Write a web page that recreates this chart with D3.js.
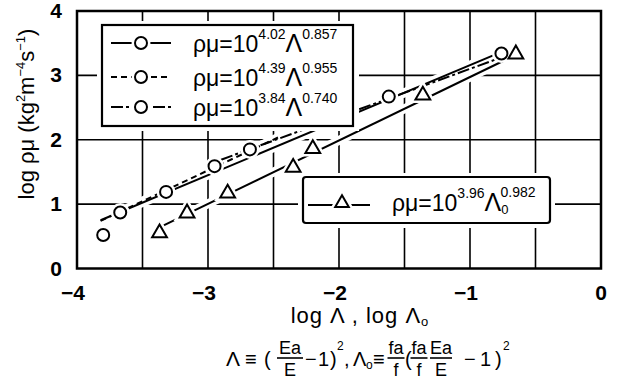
<!DOCTYPE html>
<html><head><meta charset="utf-8">
<script src="https://cdn.jsdelivr.net/npm/d3@7"></script>
<style>body{margin:0;background:#fff}text{font-family:"Liberation Sans",Arial,sans-serif;fill:#000}</style>
</head><body><svg id="c" width="620" height="380"></svg>
<script>
// ---- data ----
const circleX = [-3.80, -3.67, -3.32, -2.95, -2.68, -1.62, -0.76];
const circleY = [0.52, 0.87, 1.19, 1.59, 1.85, 2.67, 3.34];
const triX = [-3.37, -3.16, -2.85, -2.35, -2.20, -1.36, -0.65];
const triY = [0.55, 0.86, 1.17, 1.57, 1.86, 2.69, 3.33];
// fitted lines (end points, as drawn in the picture)
const fitNames = ["solid", "dashed", "dashdot", "tri"];
const fitX1 = [-3.82, -3.82, -2.90, -3.37];
const fitY1 = [0.75, 0.74, 1.69, 0.64];
const fitX2 = [-0.80, -2.45, -0.80, -0.70];
const fitY2 = [3.33, 2.05, 3.25, 3.27];
const xTicks = [-4, -3, -2, -1, 0];
const yTicks = [0, 1, 2, 3, 4];
const xGrid = [-3.5, -3, -2.5, -2, -1.5, -1, -0.5];
const yGrid = [1, 2, 3];
const legendExp = ["4.02", "4.39", "3.84"];
const legendPow = ["0.857", "0.955", "0.740"];
const legend2Exp = "3.96", legend2Pow = "0.982";

const dashes = {solid: null, dashed: "6,4", dashdot: "12,3,3,3", tri: null};

const svg = d3.select("#c");
const x = d3.scaleLinear().domain([-4, 0]).range([77, 601]);
const y = d3.scaleLinear().domain([0, 4]).range([268.5, 11]);

// grid
const g = svg.append("g");
g.selectAll(".vg").data(xGrid).join("line")
  .attr("x1", d => x(d)).attr("x2", d => x(d)).attr("y1", y(0)).attr("y2", y(4))
  .attr("stroke", "#000").attr("stroke-width", 1.6);
g.selectAll(".hg").data(yGrid).join("line")
  .attr("y1", d => y(d)).attr("y2", d => y(d)).attr("x1", x(-4)).attr("x2", x(0))
  .attr("stroke", "#000").attr("stroke-width", 1.6);

// fit lines with white halos
const fits = fitNames.map((n, i) => ({n, x1: fitX1[i], y1: fitY1[i], x2: fitX2[i], y2: fitY2[i]}));
svg.append("g").selectAll("line").data(fits).join("line")
  .attr("x1", d => x(d.x1)).attr("y1", d => y(d.y1)).attr("x2", d => x(d.x2)).attr("y2", d => y(d.y2))
  .attr("stroke", "#fff").attr("stroke-width", 9);
svg.append("g").selectAll("line").data(fits).join("line")
  .attr("x1", d => x(d.x1)).attr("y1", d => y(d.y1)).attr("x2", d => x(d.x2)).attr("y2", d => y(d.y2))
  .attr("stroke", "#000").attr("stroke-width", 2)
  .attr("stroke-dasharray", d => dashes[d.n]);

// markers
const triPath = d3.symbol().type(d3.symbolTriangle).size(95);
const circ = circleX.map((v, i) => [v, circleY[i]]);
const tris = triX.map((v, i) => [v, triY[i]]);
svg.append("g").selectAll("circle").data(circ).join("circle")
  .attr("cx", d => x(d[0])).attr("cy", d => y(d[1])).attr("r", 6)
  .attr("fill", "#fff").attr("stroke", "#fff").attr("stroke-width", 7);
svg.append("g").selectAll("path").data(tris).join("path")
  .attr("d", triPath).attr("transform", d => `translate(${x(d[0])},${y(d[1])})`)
  .attr("fill", "#fff").attr("stroke", "#fff").attr("stroke-width", 7);
svg.append("g").selectAll("circle").data(circ).join("circle")
  .attr("cx", d => x(d[0])).attr("cy", d => y(d[1])).attr("r", 6)
  .attr("fill", "#fff").attr("stroke", "#000").attr("stroke-width", 2);
svg.append("g").selectAll("path").data(tris).join("path")
  .attr("d", triPath).attr("transform", d => `translate(${x(d[0])},${y(d[1])})`)
  .attr("fill", "#fff").attr("stroke", "#000").attr("stroke-width", 2).attr("stroke-linejoin", "miter");

// frame
svg.append("rect").attr("x", x(-4)).attr("y", y(4)).attr("width", x(0) - x(-4)).attr("height", y(0) - y(4))
  .attr("fill", "none").attr("stroke", "#000").attr("stroke-width", 2.5);

// ticks
svg.append("g").selectAll("text").data(yTicks).join("text")
  .attr("x", 62).attr("y", d => y(d) + 7).attr("text-anchor", "end")
  .attr("font-size", 21).attr("font-weight", "bold").text(d => d);
svg.append("g").selectAll("text").data(xTicks).join("text")
  .attr("x", d => x(d) - (d < 0 ? 4 : 0)).attr("y", 300).attr("text-anchor", "middle")
  .attr("font-size", 21).attr("font-weight", "bold").text(d => d < 0 ? "\u2212" + (-d) : d);

// legend 1
const L1 = svg.append("g");
L1.append("rect").attr("x", 97).attr("y", 21).attr("width", 262).attr("height", 110).attr("fill", "#fff");
L1.append("rect").attr("x", 102).attr("y", 25).attr("width", 251).attr("height", 101)
  .attr("fill", "#fff").attr("stroke", "#000").attr("stroke-width", 2.2);
const rowY = [43, 77, 107];
["solid", "dashed", "dashdot"].forEach((n, i) => {
  const ry = rowY[i];
  L1.append("line").attr("x1", 111).attr("x2", 171).attr("y1", ry).attr("y2", ry)
    .attr("stroke", "#000").attr("stroke-width", 2).attr("stroke-dasharray", dashes[n]);
  L1.append("circle").attr("cx", 141).attr("cy", ry).attr("r", 6)
    .attr("fill", "#fff").attr("stroke", "#fff").attr("stroke-width", 7);
  L1.append("circle").attr("cx", 141).attr("cy", ry).attr("r", 6)
    .attr("fill", "#fff").attr("stroke", "#000").attr("stroke-width", 2);
  const t = L1.append("text").attr("x", 193).attr("y", ry + 9).attr("font-size", 23);
  t.append("tspan").text("ρμ=10");
  t.append("tspan").attr("font-size", 14).attr("dy", -13).text(legendExp[i]);
  t.append("tspan").attr("font-size", 25).attr("dy", 13).text("Λ");
  t.append("tspan").attr("font-size", 14).attr("dy", -13).text(legendPow[i]);
});

// legend 2
const L2 = svg.append("g");
L2.append("rect").attr("x", 298).attr("y", 173).attr("width", 257).attr("height", 55).attr("fill", "#fff");
L2.append("rect").attr("x", 303).attr("y", 177).attr("width", 247).attr("height", 46).attr("rx", 3)
  .attr("fill", "#fff").attr("stroke", "#000").attr("stroke-width", 2.2);
L2.append("line").attr("x1", 308).attr("x2", 370).attr("y1", 205).attr("y2", 205)
  .attr("stroke", "#000").attr("stroke-width", 2);
L2.append("path").attr("d", d3.symbol().type(d3.symbolTriangle).size(80)).attr("transform", "translate(342,203)")
  .attr("fill", "#fff").attr("stroke", "#fff").attr("stroke-width", 7);
L2.append("path").attr("d", d3.symbol().type(d3.symbolTriangle).size(80)).attr("transform", "translate(342,203)")
  .attr("fill", "#fff").attr("stroke", "#000").attr("stroke-width", 2);
{
  const t = L2.append("text").attr("x", 392).attr("y", 211).attr("font-size", 23);
  t.append("tspan").text("ρμ=10");
  t.append("tspan").attr("font-size", 14).attr("dy", -13).text(legend2Exp);
  t.append("tspan").attr("font-size", 25).attr("dy", 13).text("Λ");
  t.append("tspan").attr("font-size", 13).attr("dy", 3).text("0");
  t.append("tspan").attr("font-size", 14).attr("dx", -8).attr("dy", -17).text(legend2Pow);
}

// y axis label
{
  const t = svg.append("text").attr("transform", "translate(34,114) rotate(-90)")
    .attr("text-anchor", "middle").attr("font-size", 22);
  t.append("tspan").text("log ρμ (kg");
  t.append("tspan").attr("font-size", 13).attr("dy", -9).text("2");
  t.append("tspan").attr("dy", 9).text("m");
  t.append("tspan").attr("font-size", 13).attr("dy", -9).text("−4");
  t.append("tspan").attr("dy", 9).text("s");
  t.append("tspan").attr("font-size", 13).attr("dy", -9).text("−1");
  t.append("tspan").attr("dy", 9).text(")");
}

// x axis label
{
  const t = svg.append("text").attr("x", 360).attr("y", 323).attr("text-anchor", "middle")
    .attr("font-size", 22).attr("letter-spacing", 1);
  t.append("tspan").text("log Λ , log Λ");
  t.append("tspan").attr("font-size", 13).attr("dy", 3).text("o");
}

// definition formula
{
  const F = svg.append("g");
  const base = 366, numB = 354, barY = 358, denB = 376;
  const txt = (xx, yy, s, fs, anchor) => F.append("text").attr("x", xx).attr("y", yy)
    .attr("font-size", fs).attr("text-anchor", anchor || "start").text(s);
  const frac = (cx, num, den, w) => {
    txt(cx, numB, num, 18, "middle");
    F.append("line").attr("x1", cx - w / 2).attr("x2", cx + w / 2).attr("y1", barY).attr("y2", barY)
      .attr("stroke", "#000").attr("stroke-width", 1.6);
    txt(cx, denB, den, 18, "middle");
  };
  txt(226, base, "Λ", 21);
  txt(245, base, "≡", 20);
  txt(264, base, "(", 20);
  frac(290, "Ea", "E", 26);
  txt(305, base, "−", 20);
  txt(318, base, "1", 20);
  txt(330, base, ")", 20);
  txt(337, base - 16, "2", 12);
  txt(344, base, ",", 20);
  txt(353, base, "Λ", 20);
  txt(366, base + 3, "o", 12);
  txt(373, base, "≡", 20);
  frac(396, "fa", "f", 17);
  txt(405, base, "(", 20);
  frac(419, "fa", "f", 17);
  frac(441, "Ea", "E", 22);
  txt(464, base, "−", 20);
  txt(480, base, "1", 20);
  txt(495, base, ")", 20);
  txt(503, base - 16, "2", 12);
}
</script></body></html>
